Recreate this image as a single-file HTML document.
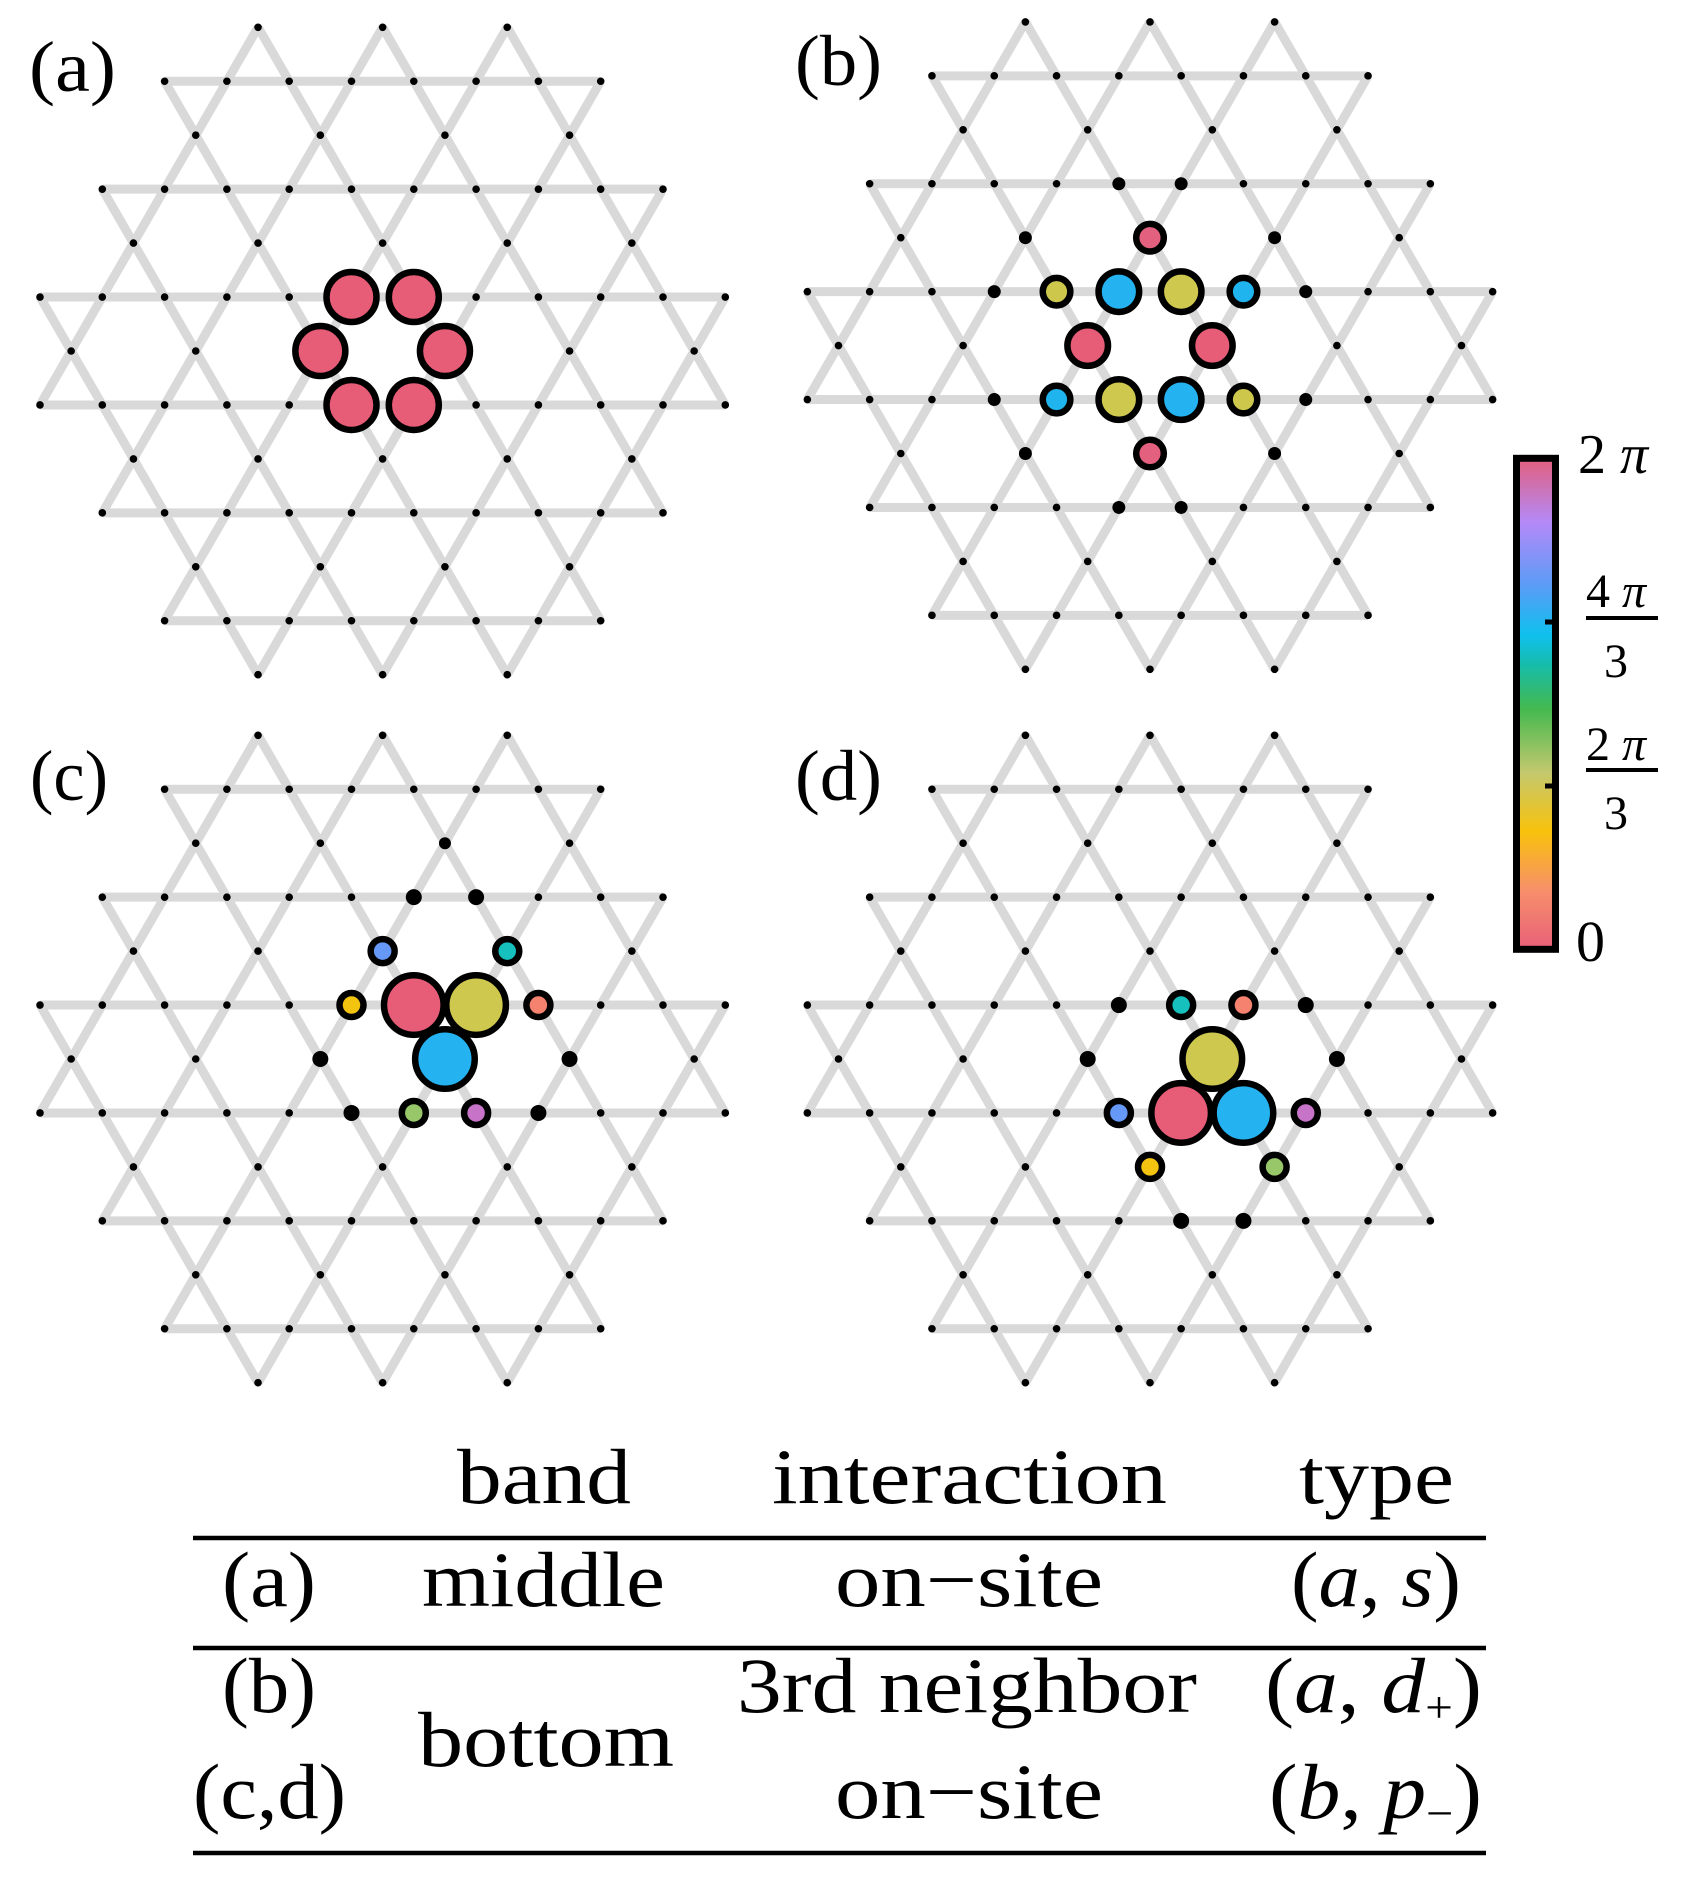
<!DOCTYPE html>
<html><head><meta charset="utf-8"><style>
html,body{margin:0;padding:0;background:#fff;}
svg{display:block;}
text{font-family:"Liberation Serif",serif;fill:#000;}
</style></head><body>
<svg id="s" width="1681" height="1878" viewBox="0 0 1681 1878" xmlns="http://www.w3.org/2000/svg">
<defs>
<linearGradient id="cb" x1="0" y1="1" x2="0" y2="0">
<stop offset="0" stop-color="#e8607a"/>
<stop offset="0.12" stop-color="#f78f6a"/>
<stop offset="0.24" stop-color="#f8c20c"/>
<stop offset="0.36" stop-color="#c4c86e"/>
<stop offset="0.49" stop-color="#43b94f"/>
<stop offset="0.58" stop-color="#16bcaa"/>
<stop offset="0.64" stop-color="#0fc0ee"/>
<stop offset="0.74" stop-color="#5a9cf6"/>
<stop offset="0.87" stop-color="#b489f8"/>
<stop offset="1" stop-color="#e35f7c"/>
</linearGradient>
</defs>
<g id="lat"></g>
<text x="29" y="91" font-size="72" textLength="87" lengthAdjust="spacingAndGlyphs">(a)</text>
<text x="795" y="85" font-size="72" textLength="87" lengthAdjust="spacingAndGlyphs">(b)</text>
<text x="30" y="800" font-size="72" textLength="78" lengthAdjust="spacingAndGlyphs">(c)</text>
<text x="795" y="800" font-size="72" textLength="87" lengthAdjust="spacingAndGlyphs">(d)</text>
<rect x="1516.5" y="458.3" width="39" height="491" fill="url(#cb)" stroke="#000" stroke-width="7"/>
<line x1="1545" y1="622" x2="1553" y2="622" stroke="#000" stroke-width="5"/>
<line x1="1545" y1="786" x2="1553" y2="786" stroke="#000" stroke-width="5"/>
<text x="1578" y="473" font-size="56">2 <tspan font-style="italic">π</tspan></text>
<text x="1586" y="607" font-size="48">4 <tspan font-style="italic">π</tspan></text>
<line x1="1586" y1="618" x2="1658" y2="618" stroke="#000" stroke-width="4"/>
<text x="1604" y="677" font-size="48">3</text>
<text x="1586" y="760" font-size="48">2 <tspan font-style="italic">π</tspan></text>
<line x1="1586" y1="770" x2="1658" y2="770" stroke="#000" stroke-width="4"/>
<text x="1604" y="829" font-size="48">3</text>
<text x="1576" y="961" font-size="58">0</text>
<g font-size="78">
<text x="457" y="1503" textLength="174" lengthAdjust="spacingAndGlyphs">band</text>
<text x="772" y="1503" textLength="395" lengthAdjust="spacingAndGlyphs">interaction</text>
<text x="1299" y="1503" textLength="155" lengthAdjust="spacingAndGlyphs">type</text>
<line x1="193" y1="1538" x2="1486" y2="1538" stroke="#000" stroke-width="4.5"/>
<text x="222" y="1606" textLength="94" lengthAdjust="spacingAndGlyphs">(a)</text>
<text x="422" y="1606" textLength="243" lengthAdjust="spacingAndGlyphs">middle</text>
<text x="835" y="1606" textLength="268" lengthAdjust="spacingAndGlyphs">on−site</text>
<text x="1291" y="1606" textLength="170" lengthAdjust="spacingAndGlyphs">(<tspan font-style="italic">a</tspan>, <tspan font-style="italic">s</tspan>)</text>
<line x1="193" y1="1648" x2="1486" y2="1648" stroke="#000" stroke-width="4.5"/>
<text x="222" y="1712" textLength="94" lengthAdjust="spacingAndGlyphs">(b)</text>
<text x="737" y="1712" textLength="460" lengthAdjust="spacingAndGlyphs">3rd neighbor</text>
<text x="1265" y="1712" textLength="217" lengthAdjust="spacingAndGlyphs">(<tspan font-style="italic">a</tspan>, <tspan font-style="italic">d</tspan><tspan font-size="44" dy="10">+</tspan><tspan dy="-10">)</tspan></text>
<text x="418" y="1766" textLength="256" lengthAdjust="spacingAndGlyphs">bottom</text>
<text x="193" y="1818" textLength="153" lengthAdjust="spacingAndGlyphs">(c,d)</text>
<text x="835" y="1818" textLength="268" lengthAdjust="spacingAndGlyphs">on−site</text>
<text x="1269" y="1818" textLength="213" lengthAdjust="spacingAndGlyphs">(<tspan font-style="italic">b</tspan>, <tspan font-style="italic">p</tspan><tspan font-size="44" dy="10">−</tspan><tspan dy="-10">)</tspan></text>
<line x1="193" y1="1853" x2="1486" y2="1853" stroke="#000" stroke-width="4.5"/>
</g>
</svg>
<script>
(function(){
var NS="http://www.w3.org/2000/svg";
var g=document.getElementById("lat");
var A=62.3,H=53.95;
var sets={0:[-5,-3,-1,1,3,5],2:[-4,-2,0,2,4],4:[-3,-1,1,3],6:[-2,0,2]};
function half(n){var r=[];for(var i=-n;i<n;i++)r.push(i+0.5);return r;}
sets[1]=half(6);sets[3]=half(5);sets[5]=half(4);
var sites=[];
for(var k=-6;k<=6;k++){var s=sets[Math.abs(k)];for(var i=0;i<s.length;i++)sites.push([s[i],k]);}
function el(n,a){var e=document.createElementNS(NS,n);for(var q in a)e.setAttribute(q,a[q]);g.appendChild(e);return e;}
var P={pink:"#e75c77",yel:"#cfc84f",blue:"#24b2f0",yo:"#f2c40f",sal:"#f5816f",vio:"#6699f7",teal:"#15c0bd",grn:"#98c76a",mag:"#c774c8",bpink:"#e3607e",byel:"#cdc84c",bblue:"#1fb4ee"};
var panels=[
 {cx:382.65,cy:351,circ:[[-0.5,-1,25,"pink"],[0.5,-1,25,"pink"],[-1,0,25,"pink"],[1,0,25,"pink"],[-0.5,1,25,"pink"],[0.5,1,25,"pink"]],med:[]},
 {cx:1150,cy:345.6,
  circ:[[0,-2,13.8,"bpink"],[0,2,13.8,"bpink"],[-1.5,-1,13.8,"byel"],[1.5,-1,13.8,"bblue"],[-1.5,1,13.8,"bblue"],[1.5,1,13.8,"byel"],
   [-0.5,-1,20.3,"blue"],[0.5,-1,20.3,"yel"],[-1,0,20.3,"pink"],[1,0,20.3,"pink"],[-0.5,1,20.3,"yel"],[0.5,1,20.3,"blue"]],
  med:[[-0.5,-3,6.5],[0.5,-3,6.5],[-0.5,3,6.5],[0.5,3,6.5],[-2,-2,6.5],[2,-2,6.5],[-2,2,6.5],[2,2,6.5],[-2.5,-1,6.5],[2.5,-1,6.5],[-2.5,1,6.5],[2.5,1,6.5]]},
 {cx:382.65,cy:1059,
  circ:[[0,-2,12,"vio"],[2,-2,12,"teal"],[-0.5,-1,12,"yo"],[2.5,-1,12,"sal"],[0.5,1,12,"grn"],[1.5,1,12,"mag"],
   [0.5,-1,29.8,"pink"],[1.5,-1,29.8,"yel"],[1,0,29.8,"blue"]],
  med:[[0.5,-3,8],[1.5,-3,8],[1,-4,6],[-1,0,8],[3,0,8],[-0.5,1,8],[2.5,1,8]]},
 {cx:1150,cy:1059,
  circ:[[0.5,-1,12,"teal"],[1.5,-1,12,"sal"],[-0.5,1,12,"vio"],[2.5,1,12,"mag"],[0,2,12,"yo"],[2,2,12,"grn"],
   [1,0,29.8,"yel"],[0.5,1,29.8,"pink"],[1.5,1,29.8,"blue"]],
  med:[[-0.5,-1,8],[2.5,-1,8],[-1,0,8],[3,0,8],[0.5,3,8],[1.5,3,8]]}
];
panels.forEach(function(p){
  var pts=sites.map(function(s){return [p.cx+s[0]*A,p.cy+s[1]*H];});
  var d="";
  for(var i=0;i<sites.length;i++)for(var j=i+1;j<sites.length;j++){
    var dx=sites[i][0]-sites[j][0],dk=sites[i][1]-sites[j][1];
    var ok=(dk===0&&Math.abs(Math.abs(dx)-1)<1e-6)||(Math.abs(dk)===1&&Math.abs(Math.abs(dx)-0.5)<1e-6);
    if(ok)d+="M"+pts[i][0].toFixed(2)+" "+pts[i][1].toFixed(2)+"L"+pts[j][0].toFixed(2)+" "+pts[j][1].toFixed(2);
  }
  el("path",{d:d,stroke:"#d9d9d9","stroke-width":9,fill:"none"});
  var medMap={};p.med.forEach(function(m){medMap[m[0]+","+m[1]]=m[2];});
  sites.forEach(function(s,i){
    var r=medMap[s[0]+","+s[1]]||3.8;
    el("circle",{cx:pts[i][0],cy:pts[i][1],r:r,fill:"#000"});
  });
  p.circ.forEach(function(c){
    el("circle",{cx:p.cx+c[0]*A,cy:p.cy+c[1]*H,r:c[2],fill:P[c[3]],stroke:"#000","stroke-width":6.5});
  });
});
})();
</script>
</body></html>
